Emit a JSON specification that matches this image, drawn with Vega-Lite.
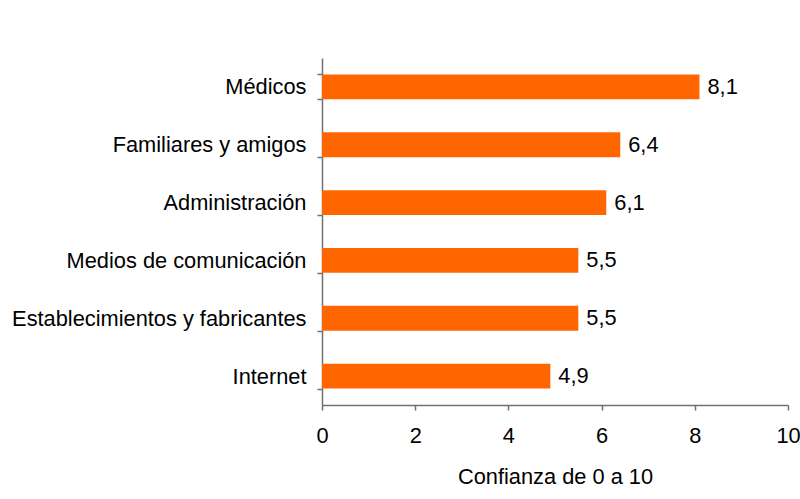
{
  "$schema": "https://vega.github.io/schema/vega-lite/v6.json",
  "width": 466,
  "height": 347,
  "autosize": {"type": "none"},
  "padding": {"left": 322, "top": 58, "right": 12, "bottom": 94},
  "data": {
    "values": [
      {"fuente": "Médicos", "confianza": 8.1},
      {"fuente": "Familiares y amigos", "confianza": 6.4},
      {"fuente": "Administración", "confianza": 6.1},
      {"fuente": "Medios de comunicación", "confianza": 5.5},
      {"fuente": "Establecimientos y fabricantes", "confianza": 5.5},
      {"fuente": "Internet", "confianza": 4.9}
    ]
  },
  "encoding": {
    "y": {
      "field": "fuente",
      "type": "nominal",
      "sort": null,
      "title": null,
      "scale": {"paddingInner": 0.57, "paddingOuter": 0.285},
      "axis": {
        "tickBand": "extent",
        "tickSize": 5,
        "labelPadding": 11,
        "domainColor": "#707070",
        "tickColor": "#707070",
        "domainWidth": 1.5,
        "tickWidth": 1.5,
        "labelFontSize": 21.8,
        "labelFont": "Liberation Sans",
        "labelColor": "#000000",
        "labelLimit": 400
      }
    },
    "x": {
      "field": "confianza",
      "type": "quantitative",
      "title": "Confianza de 0 a 10",
      "scale": {"domain": [0, 10], "nice": false},
      "axis": {
        "values": [0, 2, 4, 6, 8, 10],
        "grid": false,
        "format": "d",
        "tickSize": 5,
        "labelPadding": 15,
        "labelFlush": false,
        "domainColor": "#707070",
        "tickColor": "#707070",
        "domainWidth": 1.5,
        "tickWidth": 1.5,
        "labelFontSize": 21.8,
        "labelFont": "Liberation Sans",
        "labelColor": "#000000",
        "titleFontSize": 21.8,
        "titleFont": "Liberation Sans",
        "titleFontWeight": "normal",
        "titleColor": "#000000",
        "titlePadding": 20
      }
    }
  },
  "layer": [
    {"mark": {"type": "bar", "color": "#FF6600"}},
    {
      "mark": {
        "type": "text",
        "align": "left",
        "baseline": "middle",
        "dx": 8,
        "fontSize": 21.8,
        "font": "Liberation Sans",
        "color": "#000000"
      },
      "encoding": {
        "text": {"field": "confianza", "type": "quantitative", "format": ".1f"}
      }
    }
  ],
  "config": {
    "view": {"stroke": null},
    "locale": {
      "number": {"decimal": ",", "thousands": ".", "grouping": [3], "currency": ["", " €"]}
    }
  }
}
